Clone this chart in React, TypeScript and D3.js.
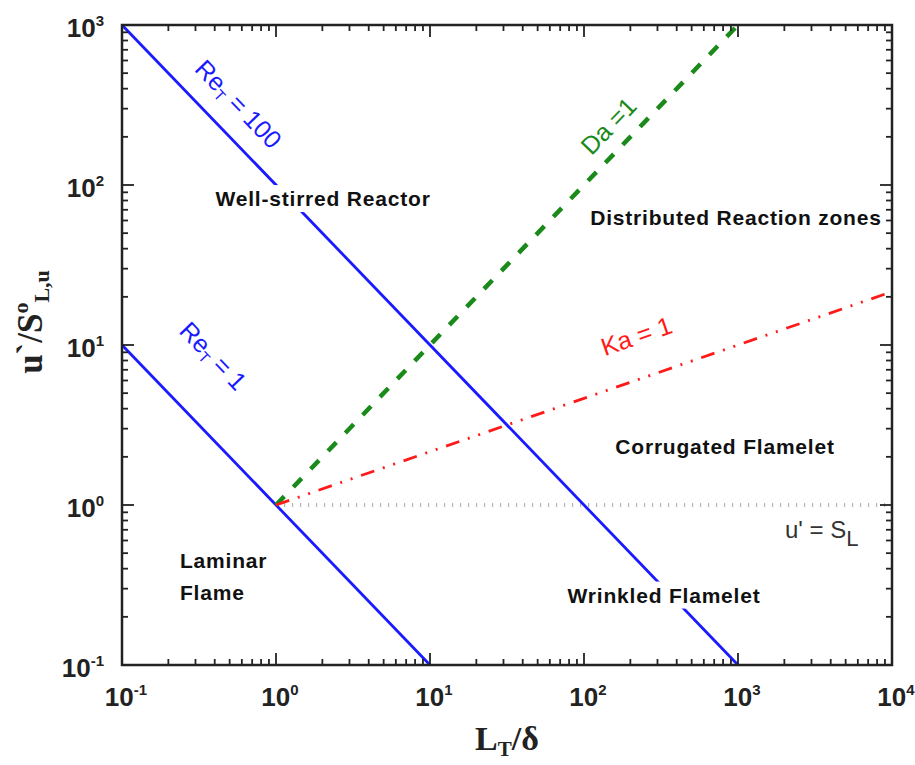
import React, { useEffect, useRef } from 'react';
import * as d3 from 'd3';

// Borghi regime diagram
const xDomain = [0.1, 1e4];
const yDomain = [0.1, 1e3];
const xTickExps = [-1, 0, 1, 2, 3, 4];
const yTickExps = [-1, 0, 1, 2, 3];

// lines: [L_T/delta, u'/S_L]
const reT1Line = [[0.1, 10], [10, 0.1]];
const reT100Line = [[0.1, 1000], [1000, 0.1]];
const daLine = [[1, 1], [1000, 1000]];
const kaLine = [[1, 1], [1e4, 21.54]];
const slLine = [[1, 1], [1e4, 1]];

// region names (centre, in data units)
const regionLabels = [
  { text: 'Well-stirred Reactor', x: 2.02, y: 80, bg: true },
  { text: 'Distributed Reaction zones', x: 970, y: 61, bg: false },
  { text: 'Corrugated Flamelet', x: 824, y: 2.27, bg: false },
  { text: 'Wrinkled Flamelet', x: 331, y: 0.266, bg: true },
];
const laminarLines = [
  { text: 'Laminar', x: 0.238, y: 0.404 },
  { text: 'Flame', x: 0.238, y: 0.255 },
];

export default function App() {
  const ref = useRef<SVGSVGElement>(null);

  useEffect(() => {
    const width = 915, height = 765;
    const m = { left: 122, right: 892, top: 25, bottom: 665 };
    const svg = d3.select(ref.current);
    svg.selectAll('*').remove();

    const x = d3.scaleLog().domain(xDomain).range([m.left, m.right]);
    const y = d3.scaleLog().domain(yDomain).range([m.bottom, m.top]);
    const line = d3.line<number[]>().x((d) => x(d[0])).y((d) => y(d[1]));

    const g = svg.append('g');
    const sans = 'Liberation Sans, Arial, sans-serif';

    // u' = S_L dotted
    g.append('path')
      .attr('d', line(slLine))
      .attr('fill', 'none')
      .attr('stroke', '#b4b4b4')
      .attr('stroke-width', 4)
      .attr('stroke-dasharray', '1.2,6.8');

    [reT1Line, reT100Line].forEach((l) => {
      g.append('path')
        .attr('d', line(l))
        .attr('fill', 'none')
        .attr('stroke', '#1a1aff')
        .attr('stroke-width', 2.8);
    });

    g.append('path')
      .attr('d', line(daLine))
      .attr('fill', 'none')
      .attr('stroke', '#1a8a1a')
      .attr('stroke-width', 4.5)
      .attr('stroke-dasharray', '12,13');

    g.append('path')
      .attr('d', line(kaLine))
      .attr('fill', 'none')
      .attr('stroke', '#ff1a1a')
      .attr('stroke-width', 2.8)
      .attr('stroke-dasharray', '14,9,2,9,2,9');

    // region labels
    const boldLabel = (t: d3.Selection<SVGTextElement, unknown, null, undefined>) =>
      t.style('font-family', sans)
        .style('font-weight', 'bold')
        .style('font-size', '21px')
        .style('letter-spacing', '0.8px')
        .style('fill', '#111');
    regionLabels.forEach((r) => {
      const t = g.append('text')
        .attr('x', x(r.x))
        .attr('y', y(r.y))
        .attr('text-anchor', 'middle')
        .attr('dominant-baseline', 'middle')
        .call(boldLabel)
        .text(r.text);
      if (r.bg) {
        const bb = (t.node() as SVGTextElement).getBBox();
        g.insert('rect', () => t.node())
          .attr('x', bb.x - 3).attr('y', bb.y - 2)
          .attr('width', bb.width + 6).attr('height', bb.height + 4)
          .attr('fill', '#fff');
      }
    });
    laminarLines.forEach((r) => {
      g.append('text').attr('x', x(r.x)).attr('y', y(r.y)).call(boldLabel).text(r.text);
    });

    // line labels
    const angle = (p: number[][]) => {
      const dx = x(p[1][0]) - x(p[0][0]);
      const dy = y(p[1][1]) - y(p[0][1]);
      return (Math.atan2(dy, dx) * 180) / Math.PI;
    };
    const lineLabel = (
      parts: { t: string; sub?: boolean }[],
      vx: number, vy: number, rot: number, color: string
    ) => {
      const t = g.append('text')
        .attr('transform', `translate(${x(vx)},${y(vy)}) rotate(${rot})`)
        .attr('text-anchor', 'middle')
        .attr('dominant-baseline', 'middle')
        .style('font-family', sans)
        .style('font-size', '25px')
        .style('fill', color);
      let shifted = false;
      parts.forEach((p) => {
        if (p.sub) {
          t.append('tspan').attr('dy', 7).style('font-size', '15px').text(p.t);
          shifted = true;
        } else {
          t.append('tspan').attr('dy', shifted ? -7 : 0).text(p.t);
          shifted = false;
        }
      });
    };
    const a1 = angle(reT1Line);
    lineLabel([{ t: 'Re' }, { t: 'T', sub: true }, { t: ' = 100' }], 0.56, 315, a1, '#1a1aff');
    lineLabel([{ t: 'Re' }, { t: 'T', sub: true }, { t: ' = 1' }], 0.384, 8.4, a1, '#1a1aff');
    lineLabel([{ t: 'Da =1' }], 147, 230, angle(daLine), '#1a8a1a');
    lineLabel([{ t: 'Ka = 1' }], 221, 11.1, angle(kaLine), '#ff1a1a');

    const sl = g.append('text')
      .attr('x', x(2019)).attr('y', y(0.62))
      .style('font-family', sans)
      .style('font-size', '24px')
      .style('fill', '#333');
    sl.append('tspan').text("u' = S");
    sl.append('tspan').attr('dy', 8).style('font-size', '22px').text('L');

    // frame
    g.append('rect')
      .attr('x', m.left).attr('y', m.top)
      .attr('width', m.right - m.left).attr('height', m.bottom - m.top)
      .attr('fill', 'none').attr('stroke', '#222').attr('stroke-width', 2.5);

    // ticks (inward, all four sides)
    const xMinor: number[] = [];
    xTickExps.slice(0, -1).forEach((e) => {
      for (let k = 2; k <= 9; k++) xMinor.push(k * Math.pow(10, e));
    });
    const yMinor: number[] = [];
    yTickExps.slice(0, -1).forEach((e) => {
      for (let k = 2; k <= 9; k++) yMinor.push(k * Math.pow(10, e));
    });
    const tk = g.append('g').attr('stroke', '#222').attr('stroke-width', 1.8);
    const xt = (v: number, len: number) => {
      const px = x(v);
      tk.append('line').attr('x1', px).attr('x2', px).attr('y1', m.bottom).attr('y2', m.bottom - len);
      tk.append('line').attr('x1', px).attr('x2', px).attr('y1', m.top).attr('y2', m.top + len);
    };
    const yt = (v: number, len: number) => {
      const py = y(v);
      tk.append('line').attr('y1', py).attr('y2', py).attr('x1', m.left).attr('x2', m.left + len);
      tk.append('line').attr('y1', py).attr('y2', py).attr('x1', m.right).attr('x2', m.right - len);
    };
    xTickExps.forEach((e) => xt(Math.pow(10, e), 12));
    xMinor.forEach((v) => xt(v, 6));
    yTickExps.forEach((e) => yt(Math.pow(10, e), 12));
    yMinor.forEach((v) => yt(v, 6));

    // tick labels
    const tickFont = (t: d3.Selection<SVGTextElement, unknown, null, undefined>) =>
      t.style('font-family', sans)
        .style('font-weight', 'bold')
        .style('font-size', '26px')
        .style('fill', '#222');
    xTickExps.forEach((e) => {
      const t = g.append('text')
        .attr('x', x(Math.pow(10, e)) + 4)
        .attr('y', 706)
        .attr('text-anchor', 'middle')
        .call(tickFont);
      t.append('tspan').text('10');
      t.append('tspan').attr('dy', -11).style('font-size', '15px').text(String(e));
    });
    yTickExps.forEach((e) => {
      const t = g.append('text')
        .attr('x', 104)
        .attr('y', y(Math.pow(10, e)) + 12)
        .attr('text-anchor', 'end')
        .call(tickFont);
      t.append('tspan').text('10');
      t.append('tspan').attr('dy', -11).style('font-size', '15px').text(String(e));
    });

    // axis titles
    const serif = 'Liberation Serif, Times New Roman, serif';
    const xTitle = g.append('text')
      .attr('x', (m.left + m.right) / 2).attr('y', 750)
      .attr('text-anchor', 'middle')
      .style('font-family', serif)
      .style('font-weight', 'bold')
      .style('font-size', '34px')
      .style('fill', '#222');
    xTitle.append('tspan').text('L');
    xTitle.append('tspan').attr('dy', 6).style('font-size', '21px').text('T');
    xTitle.append('tspan').attr('dy', -6).text('/δ');

    const yTitle = g.append('text')
      .attr('transform', 'translate(42,322) rotate(-90)')
      .attr('text-anchor', 'middle')
      .style('font-family', serif)
      .style('font-weight', 'bold')
      .style('font-size', '35px')
      .style('fill', '#222');
    yTitle.append('tspan').text('u`/S');
    yTitle.append('tspan').attr('dy', -14).style('font-size', '22px').text('o');
    yTitle.append('tspan').attr('dy', 21).style('font-size', '22px').text('L,u');

    svg.attr('width', width).attr('height', height);
  }, []);

  return (
    <svg
      ref={ref}
      width={915}
      height={765}
      style={{ position: 'absolute', left: 0, top: 0, background: '#fff' }}
    />
  );
}
